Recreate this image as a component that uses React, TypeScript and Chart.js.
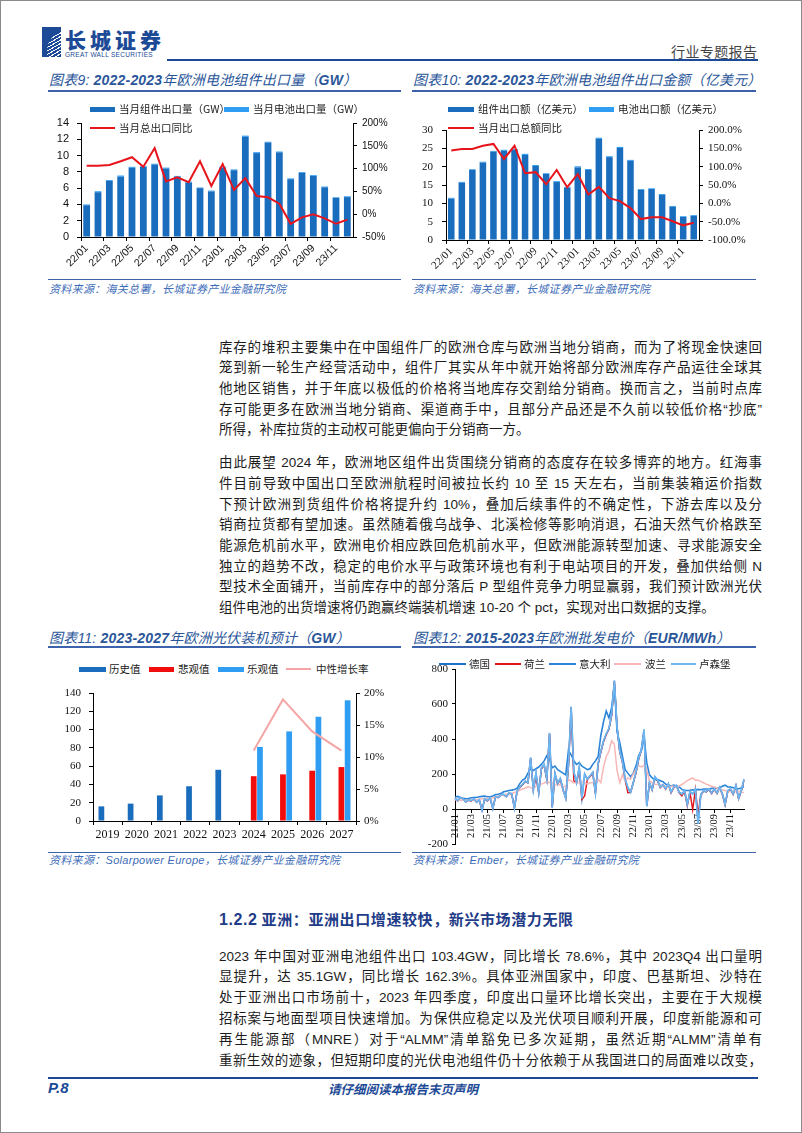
import React, { useEffect, useRef } from "react";
import { Chart, registerables } from "chart.js";

Chart.register(...registerables);

// ---------------- data: 图表9 / 图表10 ----------------
const exportMonths = ["22/01", "22/02", "22/03", "22/04", "22/05", "22/06", "22/07", "22/08", "22/09", "22/10", "22/11", "22/12",
  "23/01", "23/02", "23/03", "23/04", "23/05", "23/06", "23/07", "23/08", "23/09", "23/10", "23/11", "23/12"];
const moduleVolumeGW = [3.9, 5.5, 6.9, 7.4, 8.5, 8.6, 8.9, 8.4, 7.4, 6.7, 6.0, 5.6, 8.5, 8.2, 12.3, 10.3, 11.6, 10.4, 7.1, 7.9, 7.5, 6.1, 4.8, 4.9];
const cellVolumeGW = [0.1, 0.12, 0.1, 0.15, 0.12, 0.1, 0.1, 0.12, 0.1, 0.1, 0.08, 0.1, 0.12, 0.1, 0.15, 0.12, 0.1, 0.1, 0.1, 0.08, 0.1, 0.1, 0.08, 0.1];
const volumeYoY = [106, 106, 108, 116, 125, 104, 145, 72, 81, 70, 116, 62, 110, 53, 79, 40, 37, 23, -21, -7, 0, -9, -21, -12];

const moduleValue = [11.3, 15.6, 19.1, 21.1, 24.1, 24.3, 24.6, 23.2, 20.2, 18.0, 15.8, 14.3, 19.8, 19.1, 27.6, 22.6, 25.1, 21.6, 13.7, 13.9, 12.3, 9.1, 6.3, 6.6];
const cellValue = [0.2, 0.25, 0.2, 0.25, 0.2, 0.3, 0.25, 0.3, 0.25, 0.2, 0.25, 0.2, 0.3, 0.25, 0.3, 0.25, 0.3, 0.25, 0.2, 0.2, 0.25, 0.2, 0.2, 0.2];
const valueYoY = [144, 148, 148, 157, 162, 121, 157, 82, 85, 52, 91, 44, 80, 24, 45, 14, 6, -13, -43, -38, -38, -49, -60, -53];

// ---------------- data: 图表11 ----------------
const installYears = ["2019", "2020", "2021", "2022", "2023", "2024", "2025", "2026", "2027"];
const historical = [16, 19, 28, 38, 56, null, null, null, null];
const pessimistic = [null, null, null, null, null, 49, 51, 55, 59];
const optimistic = [null, null, null, null, null, 81, 98, 114, 132];
const neutralGrowth = [null, null, null, null, null, 11, 19, 14, 11];

// ---------------- data: 图表12 (three readings per month) ----------------
const priceMonths = ["21/01", "21/02", "21/03", "21/04", "21/05", "21/06", "21/07", "21/08", "21/09", "21/10", "21/11", "21/12",
  "22/01", "22/02", "22/03", "22/04", "22/05", "22/06", "22/07", "22/08", "22/09", "22/10", "22/11", "22/12",
  "23/01", "23/02", "23/03", "23/04", "23/05", "23/06", "23/07", "23/08", "23/09", "23/10", "23/11", "23/12"];
const germany = [
  60, 50, 65, 57, 42, 51, 47, 57, 40, 51, -5, 58, 47, 62, 5, 70, 67, 79, 83, 72, 91, 87, 8, 103, 124, 139, 158, 152, 290, 112, 203, 95, 232, 252, 172, 430,
  10, 203, 147, 173, 112, 65, 252, 580, 212, 152, 238, 62, 198, 172, 188, 208, 95, 258, 328, 388, 428, 458, 538, 730, 468, 332, 272, 172, 122, 97, 152, 208, 288, 338, 452, 18,
  148, 112, 183, 163, 127, 138, 117, 143, 97, 123, 133, 97, 87, 103, 28, 98, 87, 113, -80, 82, 103, 98, 113, 92, 113, 92, 123, 87, 28, 103, 113, 87, 133, 62, 103, 168];
const netherlands = [
  60, 46, 64, 56, 40, 50, 46, 56, 38, 50, -6, 58, 46, 62, 4, 70, 64, 78, 82, 70, 90, 86, 6, 102, 122, 138, 158, 148, 290, 112, 180, 92, 230, 250, 168, 430,
  10, 200, 140, 170, 108, 62, 240, 580, 160, 148, 218, 55, 75, 168, 185, 205, 92, 255, 325, 385, 425, 455, 535, 730, 465, 325, 265, 165, 93, 95, 148, 205, 285, 335, 450, 18,
  148, 108, 180, 160, 122, 138, 112, 142, 92, 122, 132, 92, 75, 100, 18, 95, -5, 112, -30, 78, 102, 98, 112, 88, 112, 88, 122, 82, 22, 102, 112, 82, 132, 58, 102, 165];
const italy = [
  68, 72, 66, 62, 58, 60, 64, 66, 66, 70, 72, 74, 70, 70, 74, 82, 84, 88, 98, 102, 106, 108, 112, 118, 145, 165, 175, 205, 230, 220, 230, 240, 255, 275, 305, 285,
  235, 245, 225, 215, 205, 195, 335, 310, 275, 255, 265, 245, 235, 225, 230, 255, 275, 300, 420, 500, 560, 520, 580, 710, 440, 380, 300, 225, 205, 185, 205, 245, 305, 335, 410, 265,
  195, 178, 168, 168, 162, 156, 142, 136, 132, 136, 132, 126, 112, 106, 106, 106, 110, 108, 112, 110, 114, 114, 112, 118, 120, 118, 122, 130, 136, 126, 126, 122, 118, 116, 120, 128];
const poland = [
  52, 54, 50, 50, 48, 50, 52, 54, 52, 56, 58, 60, 60, 62, 64, 70, 74, 78, 80, 84, 88, 90, 94, 98, 108, 114, 120, 128, 122, 118, 130, 138, 142, 148, 158, 150,
  148, 140, 138, 138, 130, 128, 168, 160, 150, 150, 152, 158, 150, 142, 150, 152, 160, 170, 150, 240, 300, 330, 390, 370, 220, 150, 195, 160, 178, 170, 200, 228, 248, 240, 250, 222,
  160, 150, 142, 140, 138, 134, 130, 126, 130, 130, 126, 132, 140, 150, 162, 170, 178, 165, 165, 158, 150, 142, 136, 130, 126, 120, 115, 110, 106, 100, 100, 104, 100, 100, 96, 95];
const luxembourg = [
  62, 48, 66, 58, 40, 52, 48, 58, 38, 52, -8, 60, 48, 64, 2, 72, 66, 80, 84, 70, 92, 88, 4, 104, 125, 140, 160, 150, 295, 110, 205, 90, 235, 255, 170, 435,
  8, 205, 145, 175, 110, 60, 250, 585, 210, 150, 240, 60, 200, 170, 190, 210, 90, 260, 330, 390, 430, 460, 540, 735, 470, 330, 270, 170, 120, 95, 150, 210, 290, 340, 455, 15,
  150, 110, 185, 165, 125, 140, 115, 145, 95, 125, 135, 95, 85, 105, 25, 100, 85, 115, -85, 80, 105, 100, 115, 90, 115, 90, 125, 85, 25, 105, 115, 85, 135, 60, 105, 170];
const priceLabels = priceMonths.flatMap((m) => [m, "", ""]);

// ---------------- text ----------------
const para1 = [
  "库存的堆积主要集中在中国组件厂的欧洲仓库与欧洲当地分销商，而为了将现金快速回",
  "笼到新一轮生产经营活动中，组件厂其实从年中就开始将部分欧洲库存产品运往全球其",
  "他地区销售，并于年底以极低的价格将当地库存交割给分销商。换而言之，当前时点库",
  "存可能更多在欧洲当地分销商、渠道商手中，且部分产品还是不久前以较低价格“抄底”",
  "所得，补库拉货的主动权可能更偏向于分销商一方。",
];
const para2 = [
  "由此展望 2024 年，欧洲地区组件出货围绕分销商的态度存在较多博弈的地方。红海事",
  "件目前导致中国出口至欧洲航程时间被拉长约 10 至 15 天左右，当前集装箱运价指数",
  "下预计欧洲到货组件价格将提升约 10%，叠加后续事件的不确定性，下游去库以及分",
  "销商拉货都有望加速。虽然随着俄乌战争、北溪检修等影响消退，石油天然气价格跌至",
  "能源危机前水平，欧洲电价相应跌回危机前水平，但欧洲能源转型加速、寻求能源安全",
  "独立的趋势不改，稳定的电价水平与政策环境也有利于电站项目的开发，叠加供给侧 N",
  "型技术全面铺开，当前库存中的部分落后 P 型组件竞争力明显赢弱，我们预计欧洲光伏",
  "组件电池的出货增速将仍跑赢终端装机增速 10-20 个 pct，实现对出口数据的支撑。",
];
const para3 = [
  "2023 年中国对亚洲电池组件出口 103.4GW，同比增长 78.6%，其中 2023Q4 出口量明",
  "显提升，达 35.1GW，同比增长 162.3%。具体亚洲国家中，印度、巴基斯坦、沙特在",
  "处于亚洲出口市场前十，2023 年四季度，印度出口量环比增长突出，主要在于大规模",
  "招标案与地面型项目快速增加。为保供应稳定以及光伏项目顺利开展，印度新能源和可",
  "再生能源部（MNRE）对于“ALMM”清单豁免已多次延期，虽然近期“ALMM”清单有",
  "重新生效的迹象，但短期印度的光伏电池组件仍十分依赖于从我国进口的局面难以改变，",
];

// ---------------- styles ----------------
const DARK_BLUE = "#1a6dbd";
const LIGHT_BLUE = "#2f9ef2";
const RED = "#e8141c";
const PESS_RED = "#f20d0d";
const PINK = "#f5a5a5";
const TITLE_BLUE = "#2a5699";
const SRC_BLUE = "#3d6cb8";
const NAVY = "#1d4a96";
const C_GERMANY = "#1f72c6";
const C_NL = "#e0141c";
const C_ITALY = "#2b84d8";
const C_POLAND = "#f8b6b6";
const C_LUX = "#6cb6f2";

const SANS = '"Liberation Sans", "Noto Sans CJK SC", sans-serif';
const SERIF = '"Liberation Serif", "Noto Sans CJK SC", serif';
const CJK = '"Noto Sans CJK SC", sans-serif';

const fixSize = (w: number | null, h: number | null) => (s: any) => {
  if (w !== null) s.width = w;
  if (h !== null) s.height = h;
  s.paddingLeft = 0;
  s.paddingRight = 0;
  s.paddingTop = 0;
  s.paddingBottom = 0;
};
const axisGrid = (len: number) => ({ display: true, drawOnChartArea: false, drawTicks: true, tickLength: len, color: "#000", lineWidth: 1 });
const axisBorder = { display: true, color: "#000", width: 1 };
const baseOptions = (padding: any) => ({
  responsive: false,
  maintainAspectRatio: false,
  animation: false,
  devicePixelRatio: 1,
  events: [],
  layout: { padding },
  plugins: { legend: { display: false }, tooltip: { enabled: false }, title: { display: false } },
});

const makeVolume = () => ({
  type: "bar",
  data: {
    labels: exportMonths,
    datasets: [
      { type: "line", label: "当月总出口同比", data: volumeYoY, yAxisID: "y1", borderColor: RED, backgroundColor: RED, borderWidth: 2, pointRadius: 0, tension: 0, order: 0 },
      { type: "bar", label: "当月组件出口量（GW）", data: moduleVolumeGW, yAxisID: "y", backgroundColor: DARK_BLUE, stack: "gw", barPercentage: 0.6, categoryPercentage: 1, order: 1 },
      { type: "bar", label: "当月电池出口量（GW）", data: cellVolumeGW, yAxisID: "y", backgroundColor: LIGHT_BLUE, stack: "gw", barPercentage: 0.6, categoryPercentage: 1, order: 1 },
    ],
  },
  options: {
    ...baseOptions({ top: 27, left: 0, right: 0, bottom: 0 }),
    scales: {
      x: {
        stacked: true,
        grid: { ...axisGrid(4), tickColor: (c: any) => (c.index % 2 === 0 ? "#000" : "rgba(0,0,0,0)") },
        border: axisBorder,
        ticks: { autoSkip: false, minRotation: 45, maxRotation: 45, padding: 1, color: "#111", font: { family: SANS, size: 10.5 }, callback: (_v: any, i: number) => (i % 2 === 0 ? exportMonths[i] : "") },
        afterFit: fixSize(null, 34),
      },
      y: { stacked: true, position: "left", min: 0, max: 14, grid: axisGrid(4), border: axisBorder, ticks: { stepSize: 2, padding: 8, color: "#111", font: { family: SANS, size: 11 } }, afterFit: fixSize(33, null) },
      y1: { position: "right", min: -50, max: 200, grid: axisGrid(4), border: axisBorder, ticks: { stepSize: 50, padding: 5, color: "#111", font: { family: SANS, size: 10 }, callback: (v: any) => v + "%" }, afterFit: fixSize(48, null) },
    },
  },
});

const makeValue = () => ({
  type: "bar",
  data: {
    labels: exportMonths,
    datasets: [
      { type: "line", label: "当月出口总额同比", data: valueYoY, yAxisID: "y1", borderColor: RED, backgroundColor: RED, borderWidth: 2, pointRadius: 0, tension: 0, order: 0 },
      { type: "bar", label: "组件出口额（亿美元）", data: moduleValue, yAxisID: "y", backgroundColor: DARK_BLUE, stack: "usd", barPercentage: 0.62, categoryPercentage: 1, order: 1 },
      { type: "bar", label: "电池出口额（亿美元）", data: cellValue, yAxisID: "y", backgroundColor: LIGHT_BLUE, stack: "usd", barPercentage: 0.62, categoryPercentage: 1, order: 1 },
    ],
  },
  options: {
    ...baseOptions({ top: 34, left: 0, right: 0, bottom: 0 }),
    scales: {
      x: {
        stacked: true,
        grid: { ...axisGrid(4), tickColor: (c: any) => (c.index % 2 === 0 ? "#000" : "rgba(0,0,0,0)") },
        border: axisBorder,
        ticks: { autoSkip: false, minRotation: 45, maxRotation: 45, padding: 1, color: "#111", font: { family: SERIF, size: 11 }, callback: (_v: any, i: number) => (i % 2 === 0 ? exportMonths[i] : "") },
        afterFit: fixSize(null, 36),
      },
      y: { stacked: true, position: "left", min: 0, max: 30, grid: axisGrid(4), border: axisBorder, ticks: { stepSize: 5, padding: 9, color: "#111", font: { family: SERIF, size: 11 } }, afterFit: fixSize(33, null) },
      y1: { position: "right", min: -100, max: 200, grid: axisGrid(4), border: axisBorder, ticks: { stepSize: 50, padding: 5, color: "#111", font: { family: SERIF, size: 11 }, callback: (v: any) => Number(v).toFixed(1) + "%" }, afterFit: fixSize(57, null) },
    },
  },
});

const makeInstall = () => ({
  type: "bar",
  data: {
    labels: installYears,
    datasets: [
      { type: "line", label: "中性增长率", data: neutralGrowth, yAxisID: "y1", borderColor: PINK, backgroundColor: PINK, borderWidth: 2, pointRadius: 0, tension: 0, order: 0 },
      { type: "bar", label: "历史值", data: historical, yAxisID: "y", backgroundColor: DARK_BLUE, barPercentage: 0.92, categoryPercentage: 0.64, order: 1 },
      { type: "bar", label: "悲观值", data: pessimistic, yAxisID: "y", backgroundColor: PESS_RED, barPercentage: 0.92, categoryPercentage: 0.64, order: 1 },
      { type: "bar", label: "乐观值", data: optimistic, yAxisID: "y", backgroundColor: LIGHT_BLUE, barPercentage: 0.92, categoryPercentage: 0.64, order: 1 },
    ],
  },
  options: {
    ...baseOptions({ top: 12, left: 0, right: 0, bottom: 0 }),
    scales: {
      x: { grid: axisGrid(4), border: axisBorder, ticks: { autoSkip: false, maxRotation: 0, padding: 3, color: "#111", font: { family: SERIF, size: 12 } }, afterFit: fixSize(null, 25) },
      y: { position: "left", min: 0, max: 140, grid: axisGrid(4), border: axisBorder, ticks: { stepSize: 20, padding: 8, color: "#111", font: { family: SERIF, size: 11 } }, afterFit: fixSize(45, null) },
      y1: { position: "right", min: 0, max: 20, grid: axisGrid(4), border: axisBorder, ticks: { stepSize: 5, padding: 4, color: "#111", font: { family: SERIF, size: 11 }, callback: (v: any) => v + "%" }, afterFit: fixSize(45, null) },
    },
  },
});

const priceLine = (label: string, data: number[], color: string, order: number, width: number) => ({
  type: "line", label, data, borderColor: color, backgroundColor: color, borderWidth: width, pointRadius: 0, tension: 0, order,
});

const makePrice = () => ({
  type: "line",
  data: {
    labels: priceLabels,
    datasets: [
      priceLine("德国", germany, C_GERMANY, 4, 1.5),
      priceLine("荷兰", netherlands, C_NL, 3, 1.4),
      priceLine("意大利", italy, C_ITALY, 2, 1.6),
      priceLine("波兰", poland, C_POLAND, 1, 1.5),
      priceLine("卢森堡", luxembourg, C_LUX, 0, 1.7),
    ],
  },
  options: {
    ...baseOptions({ top: 13, left: 0, right: 12, bottom: 7 }),
    scales: {
      x: {
        position: { y: 0 },
        grid: { ...axisGrid(3), tickColor: (c: any) => (c.index % 6 === 0 ? "#000" : "rgba(0,0,0,0)") },
        border: axisBorder,
        ticks: { autoSkip: false, minRotation: 90, maxRotation: 90, padding: 2, color: "#111", font: { family: SERIF, size: 10.5 }, callback: (_v: any, i: number) => (i % 6 === 0 ? priceLabels[i] : "") },
        afterFit: fixSize(null, 0),
      },
      y: { position: "left", min: -200, max: 800, grid: axisGrid(3), border: axisBorder, ticks: { stepSize: 200, padding: 4, color: "#111", font: { family: SERIF, size: 11 } }, afterFit: fixSize(42, null) },
    },
  },
});

// ---------------- components ----------------
function ChartCanvas({ x, y, w, h, make }: any) {
  const ref = useRef<HTMLCanvasElement>(null);
  useEffect(() => {
    const chart = new Chart(ref.current as HTMLCanvasElement, make() as any);
    return () => chart.destroy();
  }, []);
  return <canvas ref={ref} width={w} height={h} style={{ position: "absolute", left: x, top: y, width: w, height: h }} />;
}

const abs = (left: number, top: number, extra: any = {}) => ({ position: "absolute" as const, left, top, ...extra });

function Rule({ x1, x2, y, h = 1, color = TITLE_BLUE }: any) {
  return <div style={abs(x1, y, { width: x2 - x1, height: h, background: color })} />;
}

function Swatch({ x1, x2, y, h, color }: any) {
  return <div style={abs(x1, y - h / 2, { width: x2 - x1, height: h, background: color })} />;
}

function LegendText({ x, y, children }: any) {
  return (
    <div style={abs(x, y - 8, { fontFamily: CJK, fontSize: 10.5, lineHeight: "16px", color: "#222", whiteSpace: "nowrap" })}>{children}</div>
  );
}

function ChartTitle({ x, y, children }: any) {
  return (
    <div style={abs(x, y - 8, { fontFamily: SANS, fontSize: 14, fontStyle: "italic", lineHeight: "16px", color: TITLE_BLUE, whiteSpace: "nowrap", letterSpacing: 0.2 })}>{children}</div>
  );
}

function Source({ x, y, children }: any) {
  return (
    <div style={abs(x, y - 7, { fontFamily: SANS, fontSize: 11, fontStyle: "italic", lineHeight: "14px", color: SRC_BLUE, whiteSpace: "nowrap", letterSpacing: 0.3 })}>{children}</div>
  );
}

function TextLine({ y, text, last }: any) {
  return (
    <div
      style={abs(218, y - 10.5, {
        width: 543,
        fontFamily: SANS,
        fontSize: 13.5,
        lineHeight: "21px",
        color: "#1c1c1c",
        textAlign: "justify",
        textAlignLast: last ? "left" : "justify",
      })}
    >
      {text}
    </div>
  );
}

export default function App() {
  const B = (t: string) => <span style={{ fontWeight: 700 }}>{t}</span>;
  return (
    <div
      style={{
        position: "absolute",
        left: 0,
        top: 0,
        width: 802,
        height: 1133,
        background: "#fff",
        overflow: "hidden",
        border: "1px solid #8a8a8a",
        boxSizing: "border-box",
        fontFamily: SANS,
      }}
    >
      {/* header */}
      <div style={abs(41, 26, { width: 19, height: 30, background: NAVY, overflow: "hidden" })}>
        <div
          style={abs(5, 4, {
            width: 20,
            height: 32,
            borderTopLeftRadius: 20,
            background: "repeating-linear-gradient(150deg, rgba(255,255,255,0) 0px, rgba(255,255,255,0) 2px, #ffffff 2px, #ffffff 3px)",
          })}
        />
      </div>
      <div style={abs(64, 25, { fontFamily: CJK, fontWeight: 900, fontSize: 21, letterSpacing: 4, color: NAVY, lineHeight: "26px", whiteSpace: "nowrap" })}>长城证券</div>
      <div style={abs(64, 50, { fontFamily: SANS, fontSize: 6.5, color: NAVY, lineHeight: "8px", whiteSpace: "nowrap", letterSpacing: 0.3 })}>GREAT WALL SECURITIES</div>
      <div style={abs(670, 42, { fontFamily: CJK, fontSize: 14, color: "#444", lineHeight: "16px", whiteSpace: "nowrap", letterSpacing: 0.4 })}>行业专题报告</div>
      <Rule x1={166} x2={757} y={58} h={2} color={NAVY} />

      {/* 图表9 */}
      <ChartTitle x={48} y={78.5}>
        图表9: {B("2022-2023")}年欧洲电池组件出口量（{B("GW")}）
      </ChartTitle>
      <Rule x1={47} x2={400} y={88.5} h={2} color="#3b62aa" />
      <ChartCanvas x={47} y={95} w={353} h={175} make={makeVolume} />
      <Swatch x1={89} x2={114} y={108} h={5} color={DARK_BLUE} />
      <LegendText x={118} y={108}>当月组件出口量（GW）</LegendText>
      <Swatch x1={223} x2={248} y={108} h={5} color={LIGHT_BLUE} />
      <LegendText x={252} y={108}>当月电池出口量（GW）</LegendText>
      <Swatch x1={89} x2={114} y={127} h={2.5} color={RED} />
      <LegendText x={118} y={127}>当月总出口同比</LegendText>
      <Rule x1={47} x2={400} y={278} h={1} color="#3b62aa" />
      <Source x={48} y={288}>资料来源：海关总署，长城证券产业金融研究院</Source>

      {/* 图表10 */}
      <ChartTitle x={412} y={78.5}>
        图表10: {B("2022-2023")}年欧洲电池组件出口金额（亿美元）
      </ChartTitle>
      <Rule x1={411} x2={755} y={88.5} h={2} color="#3b62aa" />
      <ChartCanvas x={412} y={95} w={343} h={180} make={makeValue} />
      <Swatch x1={447} x2={473} y={108} h={5} color={DARK_BLUE} />
      <LegendText x={477} y={108}>组件出口额（亿美元）</LegendText>
      <Swatch x1={588} x2={613} y={108} h={5} color={LIGHT_BLUE} />
      <LegendText x={617} y={108}>电池出口额（亿美元）</LegendText>
      <Swatch x1={447} x2={473} y={127} h={2.5} color={RED} />
      <LegendText x={477} y={127}>当月出口总额同比</LegendText>
      <Rule x1={411} x2={755} y={278} h={1} color="#3b62aa" />
      <Source x={412} y={288}>资料来源：海关总署，长城证券产业金融研究院</Source>

      {/* body paragraphs */}
      {para1.map((t, i) => (
        <TextLine key={"p1" + i} y={346 + 20.7 * i} text={t} last={i === para1.length - 1} />
      ))}
      {para2.map((t, i) => (
        <TextLine key={"p2" + i} y={461.7 + 20.7 * i} text={t} last={i === para2.length - 1} />
      ))}

      {/* 图表11 */}
      <ChartTitle x={48} y={637}>
        图表11: {B("2023-2027")}年欧洲光伏装机预计（{B("GW")}）
      </ChartTitle>
      <Rule x1={47} x2={400} y={645} h={2} color="#3b62aa" />
      <ChartCanvas x={47} y={680} w={353} h={165} make={makeInstall} />
      <Swatch x1={78} x2={105} y={668} h={5} color={DARK_BLUE} />
      <LegendText x={108} y={668}>历史值</LegendText>
      <Swatch x1={148} x2={173} y={668} h={5} color={PESS_RED} />
      <LegendText x={177} y={668}>悲观值</LegendText>
      <Swatch x1={217} x2={243} y={668} h={5} color={LIGHT_BLUE} />
      <LegendText x={246} y={668}>乐观值</LegendText>
      <Swatch x1={285} x2={310} y={668} h={2} color={PINK} />
      <LegendText x={315} y={668}>中性增长率</LegendText>
      <Rule x1={47} x2={400} y={851} h={1} color="#3b62aa" />
      <Source x={48} y={859}>资料来源：Solarpower Europe，长城证券产业金融研究院</Source>

      {/* 图表12 */}
      <ChartTitle x={412} y={637}>
        图表12: {B("2015-2023")}年欧洲批发电价（{B("EUR/MWh")}）
      </ChartTitle>
      <Rule x1={411} x2={755} y={645} h={2} color="#3b62aa" />
      <ChartCanvas x={412} y={655} w={343} h={195} make={makePrice} />
      <Swatch x1={438} x2={465} y={663} h={2.5} color={C_GERMANY} />
      <LegendText x={468} y={663}>德国</LegendText>
      <Swatch x1={494} x2={520} y={663} h={2.5} color={C_NL} />
      <LegendText x={523} y={663}>荷兰</LegendText>
      <Swatch x1={548} x2={575} y={663} h={2.5} color={C_ITALY} />
      <LegendText x={578} y={663}>意大利</LegendText>
      <Swatch x1={613} x2={640} y={663} h={2.5} color={C_POLAND} />
      <LegendText x={644} y={663}>波兰</LegendText>
      <Swatch x1={670} x2={695} y={663} h={2.5} color={C_LUX} />
      <LegendText x={698} y={663}>卢森堡</LegendText>
      <Rule x1={411} x2={755} y={851} h={1} color="#3b62aa" />
      <Source x={412} y={859}>资料来源：Ember，长城证券产业金融研究院</Source>

      {/* section 1.2.2 */}
      <div style={abs(218, 908, { fontFamily: CJK, fontWeight: 700, fontSize: 15, lineHeight: "20px", color: "#1f3c88", whiteSpace: "nowrap", letterSpacing: 0.6 })}>
        <span style={{ fontFamily: SANS, fontSize: 16 }}>1.2.2</span> 亚洲：亚洲出口增速较快，新兴市场潜力无限
      </div>
      {para3.map((t, i) => (
        <TextLine key={"p3" + i} y={955 + 20.8 * i} text={t} last={false} />
      ))}

      {/* footer */}
      <Rule x1={47} x2={757} y={1076} h={1.5} color={NAVY} />
      <div style={abs(47, 1079, { fontFamily: SANS, fontWeight: 700, fontStyle: "italic", fontSize: 15, lineHeight: "16px", color: NAVY })}>P.8</div>
      <div style={abs(327, 1080, { fontFamily: CJK, fontWeight: 700, fontStyle: "italic", fontSize: 12.5, lineHeight: "15px", color: NAVY, whiteSpace: "nowrap" })}>
        请仔细阅读本报告末页声明
      </div>
    </div>
  );
}
